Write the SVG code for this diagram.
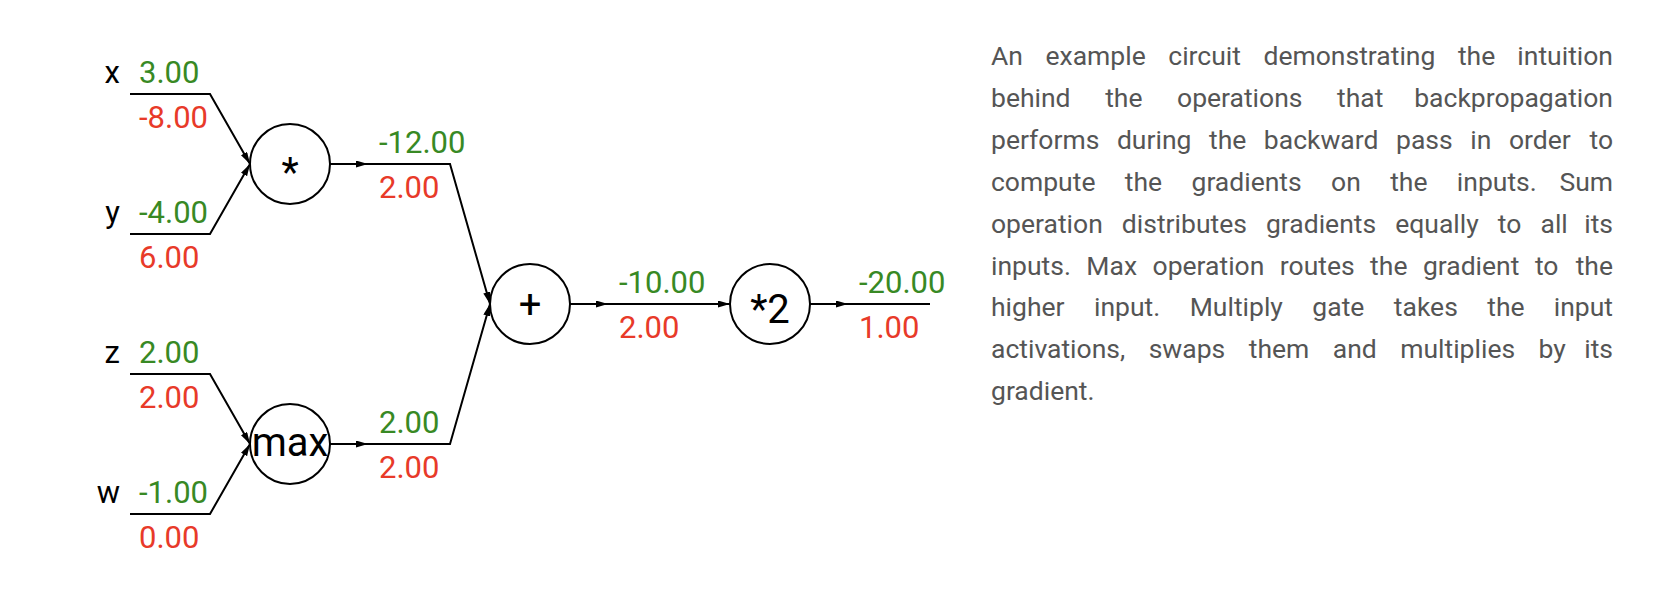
<svg xmlns="http://www.w3.org/2000/svg" width="1662" height="608" viewBox="0 0 1662 608">
<defs>
<style>
.v{font-family:Roboto,"Liberation Sans",sans-serif;font-size:31px}
.g{fill:#388924}
.r{fill:#e83a29}
.lbl{font-family:Roboto,"Liberation Sans",sans-serif;font-size:31px;fill:#000;text-anchor:end}
.gate circle{fill:#fff;stroke:#000;stroke-width:2}
.gate text{font-family:Roboto,"Liberation Sans",sans-serif;font-size:40px;fill:#000;text-anchor:middle}
.e{fill:none;stroke:#000;stroke-width:2}
.p text{font-family:Roboto,"Liberation Sans",sans-serif;font-size:26.5px;fill:#555}
.p .z{text-anchor:end}
</style>
<marker id="ah" markerUnits="userSpaceOnUse" markerWidth="13" markerHeight="8" refX="12" refY="3.5" orient="auto">
<path d="M0,0 L12,3.5 L0,7 z" fill="#000"/>
</marker>
</defs>
<rect width="1662" height="608" fill="#fff"/>
<g id="connectors">
<polyline class="e" points="130,94 210,94 250,164" marker-end="url(#ah)"/>
<polyline class="e" points="130,234 210,234 250,164" marker-end="url(#ah)"/>
<polyline class="e" points="130,374 210,374 250,444" marker-end="url(#ah)"/>
<polyline class="e" points="130,514 210,514 250,444" marker-end="url(#ah)"/>
<line class="e" x1="330" y1="164" x2="368" y2="164" marker-end="url(#ah)"/>
<polyline class="e" points="366,164 450,164 490,304" marker-end="url(#ah)"/>
<line class="e" x1="330" y1="444" x2="368" y2="444" marker-end="url(#ah)"/>
<polyline class="e" points="366,444 450,444 490,304" marker-end="url(#ah)"/>
<line class="e" x1="570" y1="304" x2="608" y2="304" marker-end="url(#ah)"/>
<line class="e" x1="606" y1="304" x2="730" y2="304" marker-end="url(#ah)"/>
<line class="e" x1="810" y1="304" x2="848" y2="304" marker-end="url(#ah)"/>
<line class="e" x1="846" y1="304" x2="930" y2="304"/>
</g>
<g id="input-x"><text class="lbl" x="120" y="82.5">x</text><text class="v g" x="139" y="82.5">3.00</text><text class="v r" x="139" y="128">-8.00</text></g>
<g id="input-y"><text class="lbl" x="120" y="222.5">y</text><text class="v g" x="139" y="222.5">-4.00</text><text class="v r" x="139" y="268">6.00</text></g>
<g id="input-z"><text class="lbl" x="120" y="362.5">z</text><text class="v g" x="139" y="362.5">2.00</text><text class="v r" x="139" y="408">2.00</text></g>
<g id="input-w"><text class="lbl" x="120" y="502.5">w</text><text class="v g" x="139" y="502.5">-1.00</text><text class="v r" x="139" y="548">0.00</text></g>
<g id="gate-mul" class="gate"><circle cx="290" cy="164" r="40"/><text x="290" y="186">*</text></g>
<g id="gate-max" class="gate"><circle cx="290" cy="444" r="40"/><text x="290" y="456">max</text></g>
<g id="gate-add" class="gate"><circle cx="530" cy="304" r="40"/><text x="530" y="318">+</text></g>
<g id="gate-mul2" class="gate"><circle cx="770" cy="304" r="40"/><text x="770" y="323">*2</text></g>
<g id="val-mul"><text class="v g" x="379" y="152.5">-12.00</text><text class="v r" x="379" y="198">2.00</text></g>
<g id="val-max"><text class="v g" x="379" y="432.5">2.00</text><text class="v r" x="379" y="478">2.00</text></g>
<g id="val-add"><text class="v g" x="619" y="292.5">-10.00</text><text class="v r" x="619" y="338">2.00</text></g>
<g id="val-out"><text class="v g" x="859" y="292.5">-20.00</text><text class="v r" x="859" y="338">1.00</text></g>
<g id="caption" class="p">
<text x="991" y="65" word-spacing="16">An example circuit demonstrating the</text><text class="z" x="1613" y="65">intuition</text>
<text x="991" y="106.9" word-spacing="28">behind the operations that</text><text class="z" x="1613" y="106.9">backpropagation</text>
<text x="991" y="148.8" word-spacing="11">performs during the backward pass in order</text><text class="z" x="1613" y="148.8">to</text>
<text x="991" y="190.7" word-spacing="22.8">compute the gradients on the inputs.</text><text class="z" x="1613" y="190.7">Sum</text>
<text x="991" y="232.6" word-spacing="12.5">operation distributes gradients equally to all</text><text class="z" x="1613" y="232.6">its</text>
<text x="991" y="274.5" word-spacing="8.9">inputs. Max operation routes the gradient to</text><text class="z" x="1613" y="274.5">the</text>
<text x="991" y="316.4" word-spacing="22.9">higher input. Multiply gate takes the</text><text class="z" x="1613" y="316.4">input</text>
<text x="991" y="358.3" word-spacing="16.9">activations, swaps them and multiplies by</text><text class="z" x="1613" y="358.3">its</text>
<text x="991" y="400.2">gradient.</text>
</g>
</svg>
